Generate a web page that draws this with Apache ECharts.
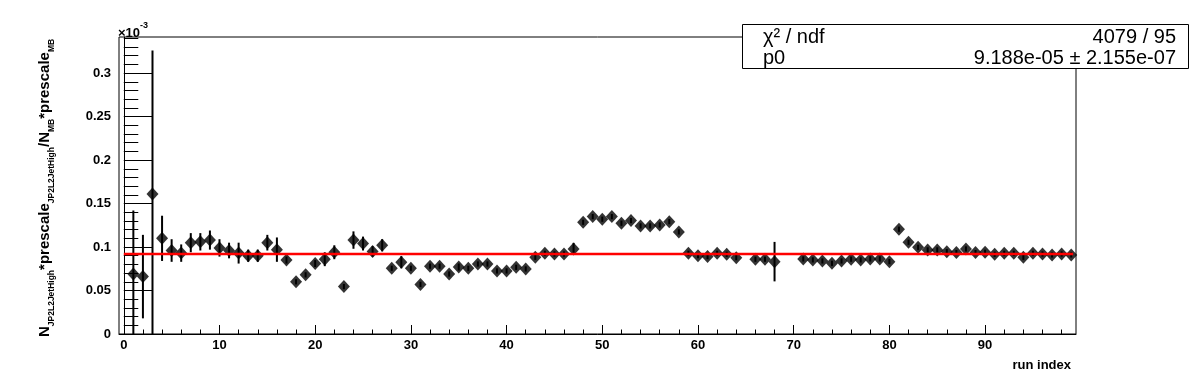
<!DOCTYPE html>
<html><head><meta charset="utf-8">
<script src="https://cdn.jsdelivr.net/npm/echarts@6/dist/echarts.min.js"></script>
<style>html,body{margin:0;padding:0;background:#fff;} #c{width:1196px;height:372px;}</style>
</head><body><div id="c"></div>
<script>
// ---- data (y values in units of 1e-3) ----
const runIndex = [1,2,3,4,5,6,7,8,9,10,11,12,13,14,15,16,17,18,19,20,21,22,23,24,25,26,27,28,29,30,31,32,33,34,35,36,37,38,39,40,41,42,43,44,45,46,47,48,49,50,51,52,53,54,55,56,57,58,59,60,61,62,63,64,66,67,68,71,72,73,74,75,76,77,78,79,80,81,82,83,84,85,86,87,88,89,90,91,92,93,94,95,96,97,98,99];
const ratio = [0.069,0.066,0.161,0.110,0.096,0.093,0.105,0.106,0.108,0.099,0.096,0.093,0.090,0.090,0.105,0.097,0.085,0.060,0.068,0.081,0.086,0.094,0.0545,0.108,0.104,0.095,0.102,0.0756,0.0825,0.0756,0.057,0.078,0.078,0.069,0.077,0.0756,0.0805,0.0805,0.0725,0.0725,0.0767,0.0748,0.0882,0.0928,0.092,0.092,0.0978,0.1285,0.135,0.132,0.135,0.1274,0.1304,0.1243,0.1243,0.1254,0.1292,0.1174,0.0928,0.0901,0.089,0.0928,0.0917,0.0878,0.086,0.086,0.0832,0.0863,0.0852,0.084,0.0813,0.084,0.086,0.0852,0.0863,0.0863,0.0832,0.1205,0.1055,0.0997,0.0967,0.0967,0.0947,0.0936,0.0978,0.0936,0.094,0.0917,0.0928,0.0928,0.0882,0.0928,0.092,0.0909,0.092,0.0909];
const ratioErr = [0.073,0.048,0.165,0.026,0.013,0.010,0.011,0.010,0.011,0.010,0.009,0.012,0.007,0.007,0.009,0.014,0.004,0.003,0.003,0.004,0.008,0.008,0.003,0.010,0.008,0.006,0.007,0.003,0.007,0.003,0.003,0.003,0.003,0.003,0.004,0.003,0.003,0.003,0.003,0.003,0.003,0.003,0.003,0.003,0.003,0.003,0.007,0.003,0.003,0.003,0.003,0.003,0.003,0.003,0.003,0.003,0.003,0.003,0.003,0.003,0.003,0.003,0.003,0.003,0.003,0.003,0.0227,0.003,0.003,0.003,0.003,0.003,0.003,0.003,0.003,0.003,0.003,0.003,0.003,0.003,0.003,0.003,0.003,0.003,0.003,0.003,0.003,0.003,0.003,0.003,0.003,0.003,0.003,0.003,0.003,0.003];
const xMajorTicks = [0,10,20,30,40,50,60,70,80,90];
const yMajorTicks = [0,0.05,0.1,0.15,0.2,0.25,0.3];
const fitP0 = 0.09188;
const fitRange = [0, 99.2];
const statsNames = ['χ² / ndf', 'p0'];
const statsValues = ['4079 / 95', '9.188e-05 ± 2.155e-07'];
const xTitle = 'run index';
const yExponent = '-3';

// ---- derived ----
const X_MIN = -0.5, X_MAX = 99.5, Y_MIN = 0, Y_MAX = 0.3415;
const xMinor = []; for (let i = 2; i < 100; i += 2) if (i % 10) xMinor.push(i);
const yMinor = []; for (let i = 1; i <= 34; i++) if (i % 5) yMinor.push(i / 100);
const points = runIndex.map((x, i) => [x, ratio[i], ratioErr[i]]);

const FONT = 'Liberation Sans, Arial, Helvetica, sans-serif';
const chart = echarts.init(document.getElementById('c'), null, {renderer: 'canvas'});

const xBase = {type: 'value', min: X_MIN, max: X_MAX, position: 'bottom', splitLine: {show: false}};
const yBase = {type: 'value', min: Y_MIN, max: Y_MAX, position: 'left', splitLine: {show: false}};

chart.setOption({
  animation: false,
  backgroundColor: '#fff',
  grid: {left: 119, right: 120, top: 37, bottom: 38, show: true, borderColor: '#000', borderWidth: 1},
  xAxis: [
    Object.assign({}, xBase, {
      axisLine: {show: true, lineStyle: {color: '#000', width: 1}},
      axisTick: {show: true, inside: true, length: 9, customValues: xMajorTicks, lineStyle: {color: '#000', width: 1}},
      axisLabel: {show: true, customValues: xMajorTicks, margin: 5, color: '#000', fontFamily: FONT, fontWeight: 'bold', fontSize: 13}
    }),
    Object.assign({}, xBase, {
      axisLine: {show: false},
      axisTick: {show: true, inside: true, length: 4.5, customValues: xMinor, lineStyle: {color: '#000', width: 1}},
      axisLabel: {show: false}
    })
  ],
  yAxis: [
    Object.assign({}, yBase, {
      axisLine: {show: true, lineStyle: {color: '#000', width: 1}},
      axisTick: {show: true, inside: true, length: 29, customValues: yMajorTicks, lineStyle: {color: '#000', width: 1}},
      axisLabel: {show: true, customValues: yMajorTicks, margin: 8, color: '#000', fontFamily: FONT, fontWeight: 'bold', fontSize: 13,
        formatter: v => String(Math.round(v * 100) / 100)}
    }),
    Object.assign({}, yBase, {
      axisLine: {show: false},
      axisTick: {show: true, inside: true, length: 14.5, customValues: yMinor, lineStyle: {color: '#000', width: 1}},
      axisLabel: {show: false}
    })
  ],
  series: [
    {
      type: 'custom', xAxisIndex: 0, yAxisIndex: 0, data: points, z: 3,
      renderItem: (params, api) => {
        const x = api.value(0), y = api.value(1), e = api.value(2);
        const lo = Math.max(y - e, Y_MIN), hi = Math.min(y + e, Y_MAX);
        const p1 = api.coord([x, lo]), p2 = api.coord([x, hi]);
        return {type: 'line', shape: {x1: p1[0], y1: p1[1], x2: p2[0], y2: p2[1]}, style: {stroke: '#000', lineWidth: 2}};
      }
    },
    {
      type: 'scatter', xAxisIndex: 0, yAxisIndex: 0, data: points.map(p => [p[0], p[1]]),
      symbol: 'diamond', symbolSize: [12, 13], itemStyle: {color: '#000'}, z: 4, silent: true
    },
    {
      type: 'line', xAxisIndex: 0, yAxisIndex: 0, data: [[fitRange[0], fitP0], [fitRange[1], fitP0]],
      symbol: 'none', lineStyle: {color: '#ff0000', width: 2.5}, z: 5, silent: true
    }
  ],
  graphic: [
    {
      type: 'text', x: 118, y: 31, z: 50,
      style: {
        text: '{a|×10}{b|' + yExponent + '}', align: 'left', verticalAlign: 'middle',
        rich: {
          a: {fontFamily: FONT, fontSize: 13, fontWeight: 'bold', fill: '#000', verticalAlign: 'bottom', height: 15, lineHeight: 20},
          b: {fontFamily: FONT, fontSize: 9, fontWeight: 'bold', fill: '#000', verticalAlign: 'top', height: 9, lineHeight: 20}
        }
      }
    },
    {
      type: 'text', x: 37, y: 337, rotation: Math.PI / 2, z: 50,
      style: {
        text: '{m|N}{s|JP2L2JetHigh}{m|*prescale}{s|JP2L2JetHigh}{m|/N}{s|MB}{m|*prescale}{s|MB}',
        align: 'left', verticalAlign: 'top',
        rich: {
          m: {fontFamily: FONT, fontSize: 15, fontWeight: 'bold', fill: '#000', verticalAlign: 'top', height: 16, lineHeight: 22},
          s: {fontFamily: FONT, fontSize: 8.5, fontWeight: 'bold', fill: '#000', verticalAlign: 'bottom', height: 14, lineHeight: 22}
        }
      }
    },
    {
      type: 'text', x: 1071, y: 365, z: 50,
      style: {text: xTitle, align: 'right', verticalAlign: 'middle', fontFamily: FONT, fontSize: 13, fontWeight: 'bold', fill: '#000'}
    },
    {
      type: 'group', z: 100,
      children: [
        {type: 'rect', shape: {x: 742.5, y: 24.5, width: 446, height: 44}, style: {fill: '#fff', stroke: '#000', lineWidth: 1}, z: 100},
        {type: 'text', x: 763, y: 37, z: 101, style: {text: statsNames[0], align: 'left', verticalAlign: 'middle', fontFamily: FONT, fontSize: 20, fill: '#000'}},
        {type: 'text', x: 763, y: 58, z: 101, style: {text: statsNames[1], align: 'left', verticalAlign: 'middle', fontFamily: FONT, fontSize: 20, fill: '#000'}},
        {type: 'text', x: 1176, y: 37, z: 101, style: {text: statsValues[0], align: 'right', verticalAlign: 'middle', fontFamily: FONT, fontSize: 20, fill: '#000'}},
        {type: 'text', x: 1176, y: 58, z: 101, style: {text: statsValues[1], align: 'right', verticalAlign: 'middle', fontFamily: FONT, fontSize: 20, fill: '#000'}}
      ]
    }
  ]
});
</script>
</body></html>
